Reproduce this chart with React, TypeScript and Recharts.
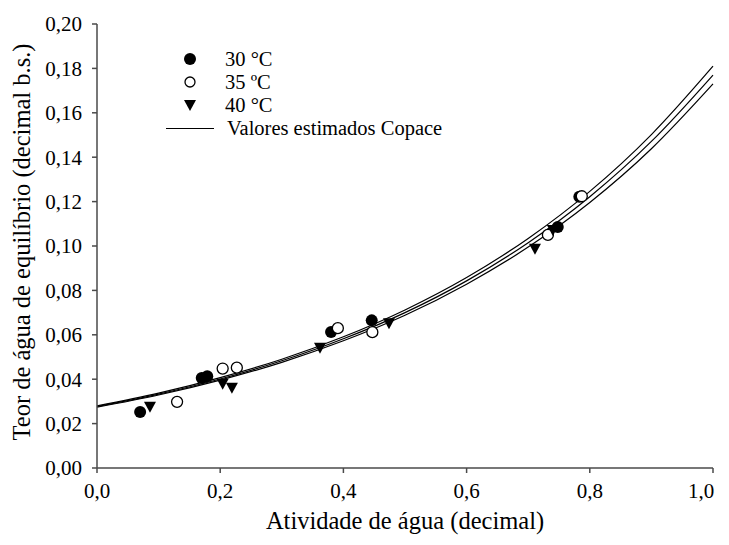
import { ComposedChart, Line, Scatter, XAxis, YAxis } from "recharts";

const xTicks = [0, 0.2, 0.4, 0.6, 0.8, 1.0];
const yTicks = [0, 0.02, 0.04, 0.06, 0.08, 0.1, 0.12, 0.14, 0.16, 0.18, 0.2];

// observed points (aw, Xe)
const obs30 = [
  { x: 0.070, y: 0.0252 }, { x: 0.170, y: 0.0405 }, { x: 0.179, y: 0.0413 },
  { x: 0.380, y: 0.0613 }, { x: 0.446, y: 0.0665 }, { x: 0.748, y: 0.1086 }, { x: 0.783, y: 0.1222 },
];
const obs35 = [
  { x: 0.130, y: 0.0298 }, { x: 0.204, y: 0.0448 }, { x: 0.227, y: 0.0452 },
  { x: 0.391, y: 0.0630 }, { x: 0.447, y: 0.0612 }, { x: 0.732, y: 0.1050 }, { x: 0.787, y: 0.1224 },
];
const obs40 = [
  { x: 0.086, y: 0.0276 }, { x: 0.204, y: 0.0380 }, { x: 0.219, y: 0.0362 },
  { x: 0.362, y: 0.0542 }, { x: 0.474, y: 0.0652 }, { x: 0.711, y: 0.0988 }, { x: 0.740, y: 0.1072 },
];

// Copace estimated curves, read at aw = 0, 0.1, ..., 1.0
const awGrid = [0, 0.1, 0.2, 0.3, 0.4, 0.5, 0.6, 0.7, 0.8, 0.9, 1.0];
const fit30 = [0.0280, 0.0337, 0.0407, 0.0490, 0.0591, 0.0712, 0.0858, 0.1034, 0.1246, 0.1502, 0.1810];
const fit35 = [0.0277, 0.0333, 0.0401, 0.0483, 0.0582, 0.0700, 0.0843, 0.1015, 0.1222, 0.1471, 0.1770];
const fit40 = [0.0274, 0.0329, 0.0396, 0.0476, 0.0573, 0.0688, 0.0828, 0.0995, 0.1196, 0.1438, 0.1730];

const toLine = (vals: number[]) => awGrid.map((x, i) => ({ x, y: vals[i] }));

const FONT = "'Liberation Serif', 'Times New Roman', serif";
const AXIS = "#4a4a4a";

const FilledDot = (p: any) => <circle cx={p.cx} cy={p.cy} r={6} fill="#000" />;
const OpenDot = (p: any) => <circle cx={p.cx} cy={p.cy} r={5.5} fill="#fff" stroke="#000" strokeWidth={1.3} />;
const Tri = (p: any) => (
  <path d={`M${p.cx - 6},${p.cy - 5} L${p.cx + 6},${p.cy - 5} L${p.cx},${p.cy + 6} Z`} fill="#000" />
);

// x tick: last label sits left of its tick like in the original
const XTick = (p: any) => {
  const v = p.payload.value;
  const dx = v >= 1 ? -12 : 0;
  return (
    <text x={p.x + dx} y={p.y + 8} textAnchor="middle" dominantBaseline="hanging" fontSize={21} fontFamily={FONT} fill="#000">
      {v.toFixed(1).replace(".", ",")}
    </text>
  );
};

const legendRows = [
  { label: "30 °C", kind: "filled" },
  { label: "35 ºC", kind: "open" },
  { label: "40 °C", kind: "tri" },
];

export default function App() {
  return (
    <div style={{ position: "relative", width: 729, height: 545, margin: -8, background: "#fff", fontFamily: FONT }}>
      <ComposedChart width={729} height={545} margin={{ top: 24, right: 16, bottom: 0, left: 0 }}>
        <XAxis
          type="number" dataKey="x" domain={[0, 1]} ticks={xTicks} allowDuplicatedCategory={false}
          height={77} stroke={AXIS} strokeWidth={1.5} tickSize={5} tick={XTick}
        />
        <YAxis
          type="number" dataKey="y" domain={[0, 0.2]} ticks={yTicks} width={97}
          stroke={AXIS} strokeWidth={1.5} tickSize={5} tickMargin={10}
          tick={{ fill: "#000", fontSize: 21, fontFamily: FONT }}
          tickFormatter={(v: number) => v.toFixed(2).replace(".", ",")}
        />
        <Scatter data={obs30} fill="#000" shape={FilledDot} isAnimationActive={false} />
        <Scatter data={obs35} fill="#fff" shape={OpenDot} isAnimationActive={false} />
        <Scatter data={obs40} fill="#000" shape={Tri} isAnimationActive={false} />
        <Line data={toLine(fit30)} dataKey="y" type="monotone" stroke="#000" strokeWidth={1.2} dot={false} isAnimationActive={false} />
        <Line data={toLine(fit35)} dataKey="y" type="monotone" stroke="#000" strokeWidth={1.2} dot={false} isAnimationActive={false} />
        <Line data={toLine(fit40)} dataKey="y" type="monotone" stroke="#000" strokeWidth={1.2} dot={false} isAnimationActive={false} />
      </ComposedChart>

      {legendRows.map((r, i) => (
        <div key={r.label} style={{ position: "absolute", left: 180, top: 48 + i * 23, height: 22, display: "flex", alignItems: "center", fontSize: 20.5 }}>
          <svg width={22} height={22} style={{ marginRight: 23 }}>
            {r.kind === "filled" && <circle cx={10} cy={11} r={6} fill="#000" />}
            {r.kind === "open" && <circle cx={10} cy={11} r={5} fill="#fff" stroke="#000" strokeWidth={1.3} />}
            {r.kind === "tri" && <path d="M4,6 L16,6 L10,17 Z" fill="#000" />}
          </svg>
          <span>{r.label}</span>
        </div>
      ))}
      <div style={{ position: "absolute", left: 166, top: 117, height: 22, display: "flex", alignItems: "center", fontSize: 20.5 }}>
        <div style={{ width: 48, height: 0, borderTop: "1.3px solid #000", marginRight: 13 }} />
        <span>Valores estimados Copace</span>
      </div>

      <div style={{ position: "absolute", left: 0, width: 810, top: 507, textAlign: "center", fontSize: 24.5 }}>
        Atividade de água (decimal)
      </div>
      <div style={{ position: "absolute", left: 22, top: 242, transform: "translate(-50%, -50%) rotate(-90deg)", whiteSpace: "nowrap", fontSize: 24.5 }}>
        Teor de água de equilíbrio (decimal b.s.)
      </div>
    </div>
  );
}
